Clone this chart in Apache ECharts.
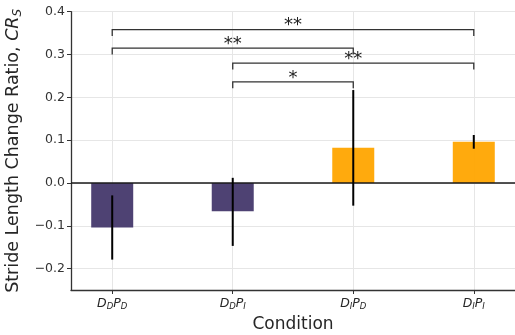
<!DOCTYPE html>
<html><head><meta charset="utf-8">
<script src="https://cdn.jsdelivr.net/npm/echarts@6/dist/echarts.min.js"></script>
<style>html,body{margin:0;padding:0;background:#fff}#c{width:515px;height:335px}</style>
</head><body><div id="c"></div>
<script>
// ---- data ----
const categories = ['DDPD', 'DDPI', 'DIPD', 'DIPI'];
const catLabels = ['{i|D}{s|D}{i|P}{s|D}', '{i|D}{s|D}{i|P}{s|I}', '{i|D}{s|I}{i|P}{s|D}', '{i|D}{s|I}{i|P}{s|I}'];
const barValues = [-0.104, -0.066, 0.082, 0.096];
const errLow = [-0.179, -0.147, -0.053, 0.080];
const errHigh = [-0.029, 0.012, 0.217, 0.112];
const barColors = ['#45386c', '#45386c', '#ffa500', '#ffa500'];
const yTicks = [-0.2, -0.1, 0.0, 0.1, 0.2, 0.3, 0.4];
// brackets: [fromIndex, toIndex, yLevel, label]
const bracketFrom = [0, 0, 1, 1];
const bracketTo = [3, 2, 3, 2];
const bracketY = [0.358, 0.315, 0.280, 0.236];
const bracketLabel = ['**', '**', '**', '*'];
const bracketLeg = 0.015;

const chart = echarts.init(document.getElementById('c'), null, {renderer: 'canvas'});
const txt = '#262626';
const option = {
  animation: false,
  grid: {left: 71, right: 0, top: 11.7, bottom: 45, containLabel: false, outerBoundsMode: 'none'},
  xAxis: {
    type: 'value', min: -0.342, max: 3.342,
    name: 'Condition', nameLocation: 'middle', nameGap: 24,
    nameTextStyle: {fontFamily: 'DejaVu Sans', fontSize: 17, color: txt},
    axisLine: {show: true, onZero: false, lineStyle: {color: '#333', width: 1.3}},
    axisTick: {show: true, length: 4, customValues: [0, 1, 2, 3], lineStyle: {color: '#333'}},
    axisLabel: {customValues: [0, 1, 2, 3], margin: 6,
      formatter: v => catLabels[Math.round(v)],
      rich: {
        i: {fontFamily: 'DejaVu Sans', fontStyle: 'italic', fontSize: 12.5, color: txt, lineHeight: 15},
        s: {fontFamily: 'DejaVu Sans', fontStyle: 'italic', fontSize: 8.5, color: txt, lineHeight: 9, verticalAlign: 'bottom'}
      }},
    splitLine: {show: true, lineStyle: {color: '#e6e6e6', width: 1}}
  },
  yAxis: {
    type: 'value', min: -0.25, max: 0.4,
    name: 'Stride Length Change Ratio, {it|CR}{sub|S}', nameLocation: 'middle', nameGap: 44, nameRotate: 90,
    nameTextStyle: {fontFamily: 'DejaVu Sans', fontSize: 17.5, color: txt,
      rich: {
        it: {fontFamily: 'DejaVu Sans', fontStyle: 'italic', fontSize: 17.5, color: txt, lineHeight: 21},
        sub: {fontFamily: 'DejaVu Sans', fontStyle: 'italic', fontSize: 12, color: txt, lineHeight: 12, verticalAlign: 'bottom'}
      }},
    axisLine: {show: true, onZero: false, lineStyle: {color: '#333', width: 1.3}},
    axisTick: {show: true, length: 4, customValues: yTicks, lineStyle: {color: '#333'}},
    axisLabel: {customValues: yTicks, margin: 6, fontFamily: 'DejaVu Sans', fontSize: 12.5, color: '#333',
      formatter: v => (v < 0 ? '\u2212' : '') + Math.abs(v).toFixed(1)},
    splitLine: {show: true, lineStyle: {color: '#e6e6e6', width: 1}}
  },
  series: [
    {
      type: 'bar', barWidth: 42, z: 2,
      data: barValues.map((v, i) => ({value: [i, v], itemStyle: {color: barColors[i], opacity: 0.95}})),
      markLine: {silent: true, symbol: 'none', label: {show: false},
        lineStyle: {color: '#1a1a1a', width: 1.6, type: 'solid'},
        data: [{yAxis: 0}], z: 5}
    },
    {
      type: 'custom', z: 6,
      data: categories.map((c, i) => [i, errLow[i], errHigh[i]]),
      renderItem: (params, api) => {
        const a = api.coord([api.value(0), api.value(1)]);
        const b = api.coord([api.value(0), api.value(2)]);
        return {type: 'line', shape: {x1: a[0], y1: a[1], x2: b[0], y2: b[1]},
          style: {stroke: '#000', lineWidth: 2}};
      }
    },
    {
      type: 'custom', z: 7, clip: false,
      data: bracketY.map((y, k) => [bracketFrom[k], bracketTo[k], y]),
      renderItem: (params, api) => {
        const k = params.dataIndex;
        const x1 = api.value(0), x2 = api.value(1), y = api.value(2);
        const p1 = api.coord([x1, y - bracketLeg]);
        const p2 = api.coord([x1, y]);
        const p3 = api.coord([x2, y]);
        const p4 = api.coord([x2, y - bracketLeg]);
        return {type: 'group', children: [
          {type: 'polyline', shape: {points: [p1, p2, p3, p4]}, style: {stroke: '#333', lineWidth: 1.3, fill: null}},
          {type: 'text', style: {text: bracketLabel[k], x: (p2[0] + p3[0]) / 2, y: p2[1] - 4,
            align: 'center', verticalAlign: 'middle', font: '18px "DejaVu Sans"', fill: '#222'}}
        ]};
      }
    }
  ]
};
chart.setOption(option);
</script></body></html>
